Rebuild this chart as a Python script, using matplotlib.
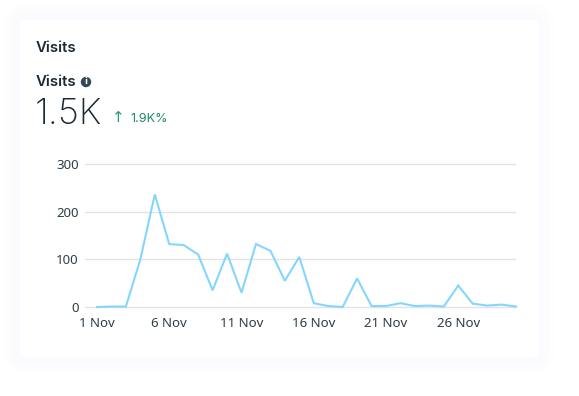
import matplotlib
matplotlib.use("Agg")
import matplotlib.pyplot as plt
from matplotlib.patches import FancyBboxPatch, Circle

days = list(range(1, 31))
visits = [0, 1, 1, 100, 236, 132, 130, 110, 35, 112, 30, 132, 118, 55, 105,
          8, 2, 0, 60, 2, 2, 8, 2, 3, 1, 45, 7, 3, 5, 1]
x_ticks = [1, 6, 11, 16, 21, 26]
x_labels = ["1 Nov", "6 Nov", "11 Nov", "16 Nov", "21 Nov", "26 Nov"]
y_ticks = [0, 100, 200, 300]

W, H = 579, 396
DARK = "#1c2b33"

fig = plt.figure(figsize=(W / 100, H / 100), dpi=100, facecolor="white")

# background layer in pixel coords, y going down
bg = fig.add_axes([0, 0, 1, 1])
bg.set_xlim(0, W)
bg.set_ylim(H, 0)
bg.axis("off")

# soft glow round the card
for grow, col in [(16, "#fefeff"), (11, "#fcfcff"), (6, "#fafbff")]:
    bg.add_patch(FancyBboxPatch((20 - grow, 20 - grow), 519 + 2 * grow, 337 + 2 * grow,
                                boxstyle="round,pad=0,rounding_size=%d" % (6 + grow),
                                fc=col, ec="none"))
bg.add_patch(FancyBboxPatch((20, 20), 519, 337, boxstyle="round,pad=0,rounding_size=6",
                            fc="white", ec="none"))

bg.text(36, 47.5, "Visits", family="Inter", fontsize=10.8, fontweight="semibold", color=DARK, va="center")
bg.text(36, 82.5, "Visits", family="Inter", fontsize=10.8, fontweight="semibold", color=DARK, va="center")
bg.add_patch(Circle((86, 82), 5.2, fc="#344854", ec="none"))
bg.text(86, 82, "i", family="DejaVu Sans", fontsize=6, fontweight="bold", color="white",
        ha="center", va="center")
bg.text(35, 114, "1.5K", family="Inter", fontsize=26, fontweight="light", color=DARK, va="center")
bg.text(118, 118, "↑", family="DejaVu Sans", fontsize=11, color="#2b9a70", ha="center", va="center")
bg.text(130, 119, "1.9K%", family="Inter", fontsize=9.2, color="#1f8a63", va="center")

# chart: 85..515 px wide, y=0 at 307 px and y=300 at 164 px
ax = fig.add_axes([85 / W, 1 - 307 / H, 430 / W, 143 / H])
ax.patch.set_alpha(0)
ax.plot(days, visits, color="#85d6ff", linewidth=1.5, clip_on=False, zorder=3,
        solid_joinstyle="miter")
ax.set_xlim(1 - 12 / 14.45, 1 + 418 / 14.45)
ax.set_ylim(0, 300)
ax.set_yticks(y_ticks)
ax.set_xticks(x_ticks)
ax.set_xticklabels(x_labels)
ax.grid(axis="y", color="#e2e3e5", linewidth=1.0)
ax.set_axisbelow(True)
for s in ax.spines.values():
    s.set_visible(False)
for gl in ax.get_ygridlines():
    gl.set_clip_on(False)
ax.tick_params(axis="both", length=0, labelsize=9.5, labelcolor="#2f3d46")
ax.tick_params(axis="x", pad=7)
ax.tick_params(axis="y", pad=4.5)
for lab in ax.get_xticklabels() + ax.get_yticklabels():
    lab.set_family("Noto Sans")

fig.savefig("out.png", dpi=100)
